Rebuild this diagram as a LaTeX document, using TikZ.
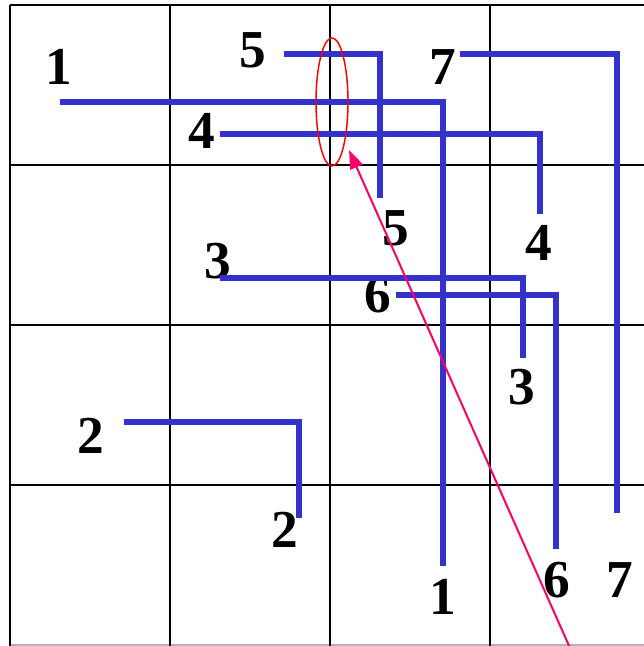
\documentclass[tikz,border=0pt]{standalone}
\usepackage{fontspec}
\setmainfont{Liberation Serif}
\usetikzlibrary{arrows.meta,shapes.geometric}
\definecolor{wireblue}{RGB}{51,51,204}
\definecolor{arrowred}{RGB}{255,0,102}
\tikzset{
  gridline/.style={line width=1.4pt,black},
  wire/.style={line width=4.5pt,wireblue,line join=miter},
  lbl/.style={font=\bfseries\fontsize{40}{40}\selectfont,inner sep=0pt},
}
\begin{document}
\begin{tikzpicture}[x=0.75pt,y=-0.75pt]
\useasboundingbox (0,0) rectangle (643,646);
% grid
\draw[gridline] (10,5) -- (650,5);
\foreach \yy in {165,325,485} \draw[gridline] (10,\yy) -- (650,\yy);
\draw[line width=1.4pt,black!30] (10,645) -- (650,645);
\foreach \xx in {10,170,330,490} \draw[gridline] (\xx,5) -- (\xx,646);
% labels
\node[lbl] (a1) at (59,67) {1};
\node[lbl] (b1) at (443,597) {1};
\node[lbl] (a2) at (91,436) {2};
\node[lbl] (b2) at (285,530) {2};
\node[lbl] (a3) at (218,261) {3};
\node[lbl] (b3) at (522,387) {3};
\node[lbl] (a4) at (202,131) {4};
\node[lbl] (b4) at (539,243) {4};
\node[lbl] (a5) at (253,50) {5};
\node[lbl] (b5) at (396,228) {5};
\node[lbl] (a6) at (378,295) {6};
\node[lbl] (b6) at (557,580) {6};
\node[lbl] (a7) at (443,67) {7};
\node[lbl] (b7) at (620,580) {7};
% wires
\draw[wire] (60,102) -- (443,102) -- (443,566);
\draw[wire] (124,422) -- (299,422) -- (299,518);
\draw[wire] (220,278) -- (523,278) -- (523,358);
\draw[wire] (220,134) -- (540,134) -- (540,214);
\draw[wire] (284,54) -- (380,54) -- (380,198);
\draw[wire] (396,295) -- (556,295) -- (556,549);
\draw[wire] (460,54) -- (617,54) -- (617,513);
% ellipse and arrow
\node[draw=red,line width=1.1pt,ellipse,minimum width=24pt,minimum height=96pt,inner sep=0pt] (ov) at (332,102) {};
\coordinate (tail) at (570,648);
\coordinate (tip) at (349,150);
\draw[arrowred,line width=1.5pt,-{Triangle[length=14pt,width=10pt]}] (tail) -- (tip);
\end{tikzpicture}
\end{document}
